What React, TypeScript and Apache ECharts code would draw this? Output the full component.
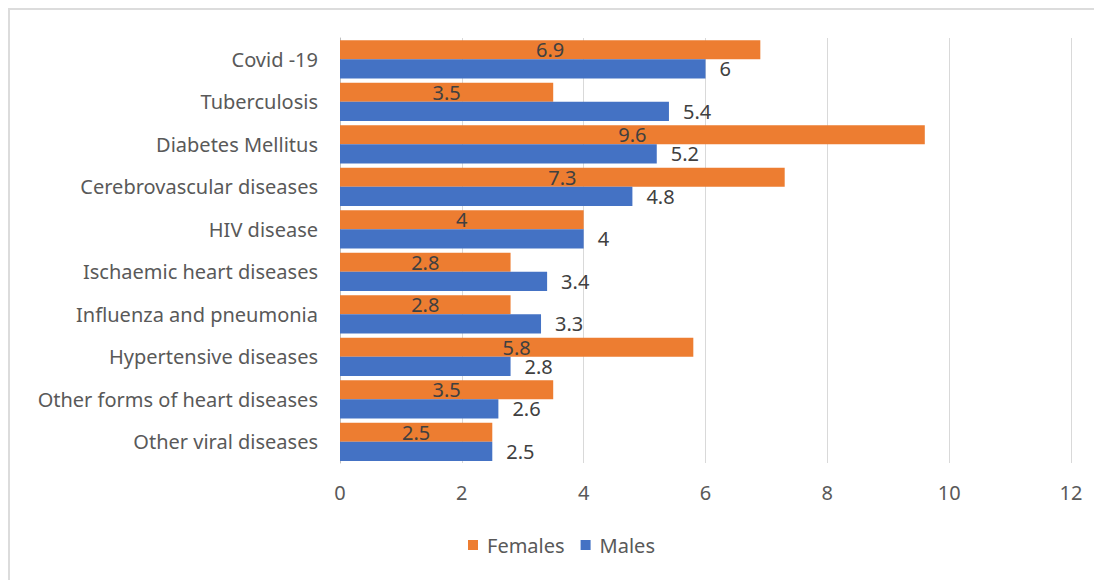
import React, { useEffect, useRef } from "react";
import * as echarts from "echarts";

// Causes of death, listed top to bottom as shown on the chart
const categories = [
  "Covid -19",
  "Tuberculosis",
  "Diabetes Mellitus",
  "Cerebrovascular diseases",
  "HIV disease",
  "Ischaemic heart diseases",
  "Influenza and pneumonia",
  "Hypertensive diseases",
  "Other forms of heart diseases",
  "Other viral diseases",
];

const females = [6.9, 3.5, 9.6, 7.3, 4, 2.8, 2.8, 5.8, 3.5, 2.5];
const males = [6, 5.4, 5.2, 4.8, 4, 3.4, 3.3, 2.8, 2.6, 2.5];

const FONT = "'Noto Sans', 'Liberation Sans', sans-serif";
const TEXT = "#595959";
const SIZE = 20;

export default function App() {
  const ref = useRef<HTMLDivElement>(null);

  useEffect(() => {
    if (!ref.current) return;
    const chart = echarts.init(ref.current, null, { renderer: "svg" });
    chart.setOption({
      animation: false,
      backgroundColor: "#ffffff",
      textStyle: { fontFamily: FONT },
      grid: { left: 332, right: 31, top: 30, bottom: 117, containLabel: false },
      legend: {
        data: ["Females", "Males"],
        top: 522,
        left: 455,
        itemWidth: 10,
        itemHeight: 10,
        itemGap: 16,
        icon: "rect",
        textStyle: { fontFamily: FONT, fontSize: SIZE, color: TEXT, padding: [0, 0, 0, 4] },
      },
      xAxis: {
        type: "value",
        min: 0,
        max: 12,
        interval: 2,
        axisLine: { show: false },
        axisTick: { show: false },
        splitLine: { lineStyle: { color: "#d9d9d9", width: 1 } },
        axisLabel: { fontFamily: FONT, fontSize: SIZE, color: TEXT, margin: 19 },
      },
      yAxis: {
        type: "category",
        inverse: true,
        data: categories,
        axisLine: { show: true, lineStyle: { color: "#bfbfbf" } },
        axisTick: { show: false },
        axisLabel: { fontFamily: FONT, fontSize: SIZE, color: TEXT, margin: 22 },
      },
      series: [
        {
          name: "Females",
          type: "bar",
          data: females,
          itemStyle: { color: "#ed7d31" },
          barGap: "0%",
          barCategoryGap: "10%",
          label: {
            show: true,
            position: "inside",
            fontFamily: FONT,
            fontSize: SIZE,
            color: "#404040",
          },
        },
        {
          name: "Males",
          type: "bar",
          data: males,
          itemStyle: { color: "#4472c4" },
          barGap: "0%",
          barCategoryGap: "10%",
          label: {
            show: true,
            position: "right",
            distance: 14,
            fontFamily: FONT,
            fontSize: SIZE,
            color: "#404040",
          },
        },
      ],
    });
    return () => chart.dispose();
  }, []);

  return (
    <div style={{ position: "relative", width: 1094, height: 572 }}>
      <div ref={ref} style={{ width: 1094, height: 572 }} />
      <div
        style={{
          position: "absolute",
          left: 0,
          top: 0,
          right: 0,
          bottom: 0,
          borderTop: "2px solid #dcdcdc",
          borderLeft: "2px solid #dcdcdc",
          pointerEvents: "none",
        }}
      />
    </div>
  );
}
